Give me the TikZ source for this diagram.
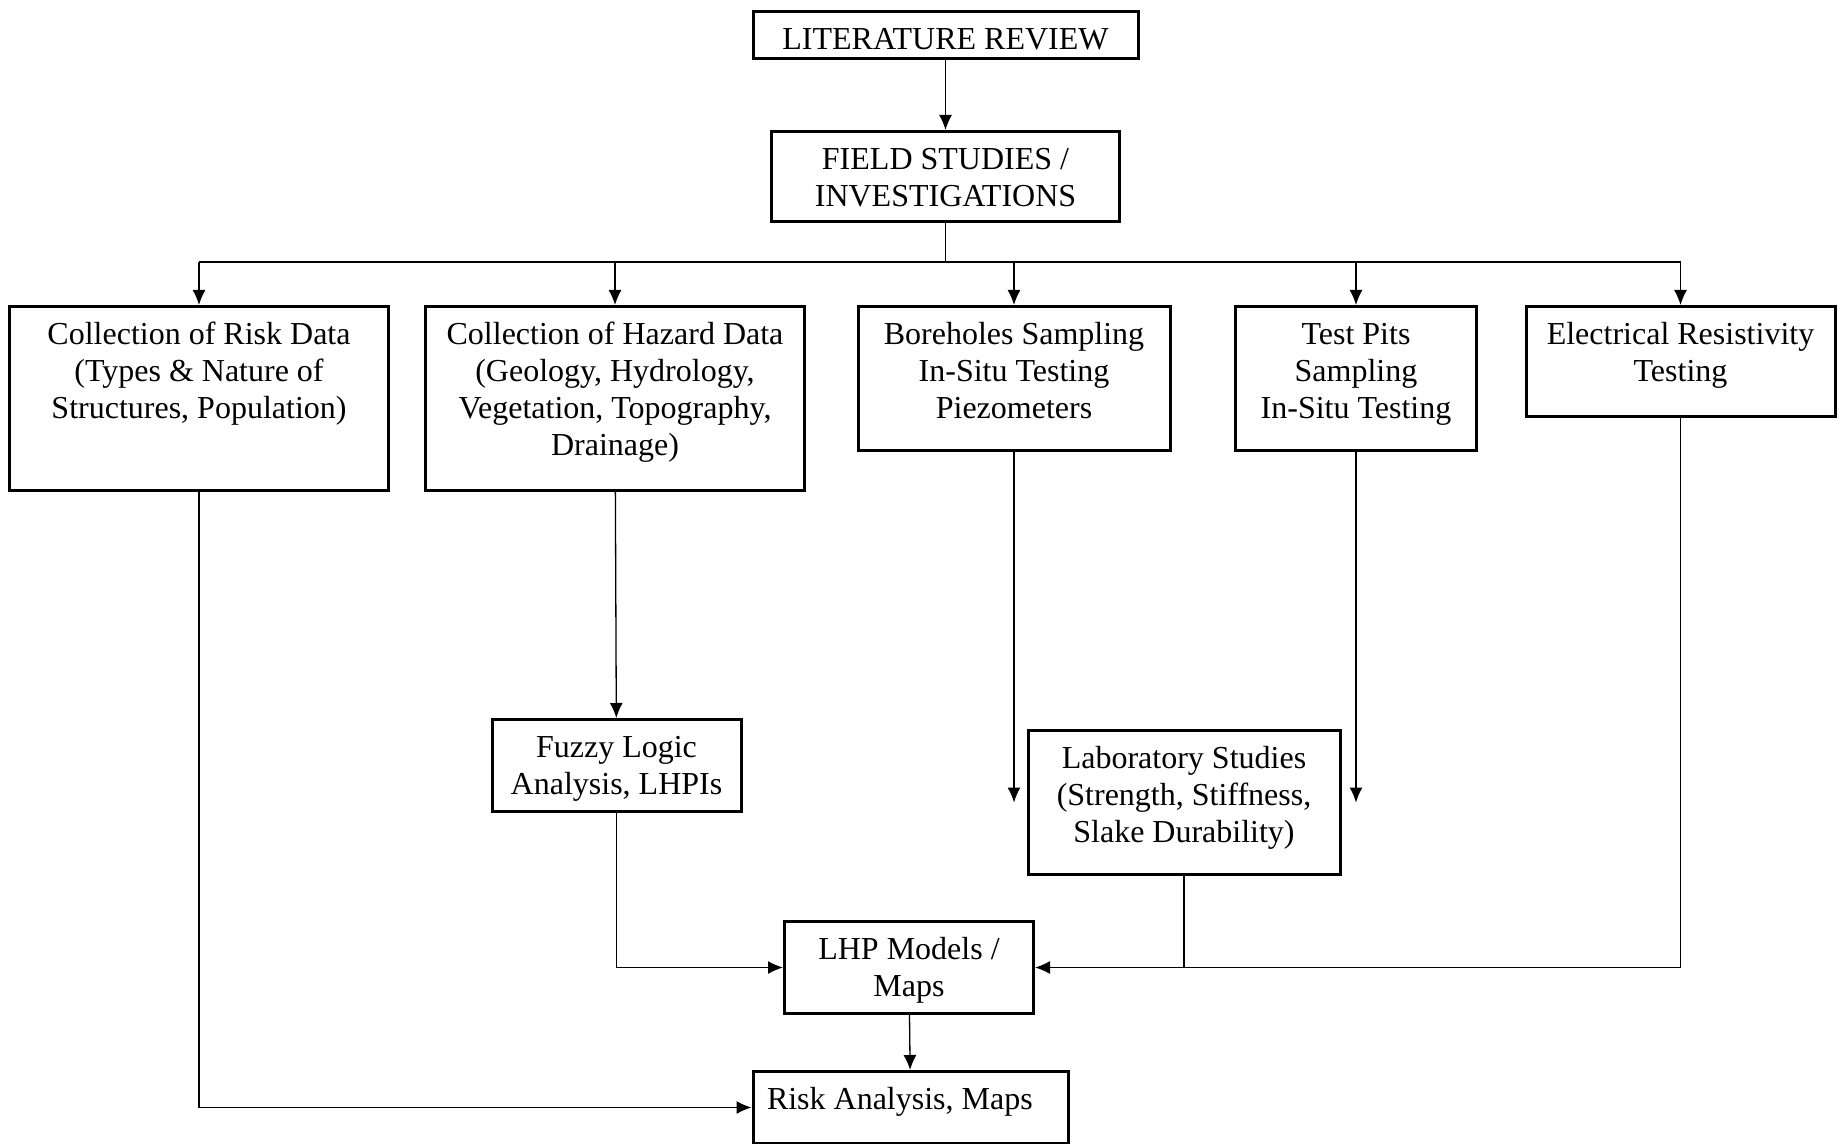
\documentclass[tikz,border=0pt]{standalone}
\usepackage{fontspec}
\setmainfont{Liberation Serif}
\usetikzlibrary{arrows.meta}

\newcommand{\boxtext}[3]{\parbox[c][#2][t]{#1}{\centering\rule{0pt}{19pt}#3}}

\begin{document}
\begin{tikzpicture}[x=0.5pt, y=-0.5pt,
  box/.style={draw, line width=1.5pt, inner sep=0pt, anchor=north,
    font=\fontsize{16}{18.5}\selectfont},
  link/.style={line width=0.65pt},
  arr/.style={link, -{Latex[length=7.5pt,width=6.5pt]}}]
  \useasboundingbox (0,0) rectangle (1842,1144);

  \node[box] (lit) at (945.5,10) {\boxtext{192.5pt}{23.5pt}{LITERATURE REVIEW}};
  \node[box] (field) at (945.5,130) {\boxtext{174pt}{45pt}{FIELD STUDIES /\\ INVESTIGATIONS}};

  \node[box] (riskd) at (199,305) {\boxtext{189.5pt}{92pt}{Collection of Risk Data\\ (Types \& Nature of\\ Structures, Population)}};
  \node[box] (haz) at (615,305) {\boxtext{189.5pt}{92pt}{Collection of Hazard Data\\ (Geology, Hydrology,\\ Vegetation, Topography,\\ Drainage)}};
  \node[box] (bore) at (1014,305) {\boxtext{156pt}{72pt}{Boreholes Sampling\\ In-Situ Testing\\ Piezometers}};
  \node[box] (pits) at (1356,305) {\boxtext{120.5pt}{72pt}{Test Pits\\ Sampling\\ In-Situ Testing}};
  \node[box] (elec) at (1680.5,305) {\boxtext{154.5pt}{55pt}{Electrical Resistivity\\ Testing}};

  \node[box] (fuzzy) at (616.5,718) {\boxtext{124.5pt}{46pt}{Fuzzy Logic\\ Analysis, LHPIs}};
  \node[box] (lab) at (1184,729) {\boxtext{156pt}{72pt}{Laboratory Studies\\ (Strength, Stiffness,\\ Slake Durability)}};
  \node[box] (lhp) at (909,920) {\boxtext{124.5pt}{46pt}{LHP Models /\\ Maps}};
  \node[box] (riskan) at (910.5,1070) {\boxtext{157.5pt}{36pt}{\raggedright\hspace*{7pt}Risk Analysis, Maps}};

  \coordinate (split) at (945.5,262);

  \draw[arr] (lit) -- (field);
  \draw[link] (field) -- (split);
  \draw[link] (split -| riskd) -- (split -| elec);
  \foreach \n in {riskd,haz,bore,pits,elec}
    \draw[arr] (split -| \n) -- (\n);

  \draw[arr] (haz) -- (fuzzy);
  \draw[arr] (bore) -- (bore |- lab.west);
  \draw[arr] (pits) -- (pits |- lab.east);
  \draw[arr] (fuzzy) |- (lhp);
  \draw[link] (lab) -- (lab |- lhp);
  \draw[arr] (elec) |- (lhp);
  \draw[arr] (lhp) -- (riskan);
  \draw[arr] (riskd) |- (riskan);
\end{tikzpicture}
\end{document}
